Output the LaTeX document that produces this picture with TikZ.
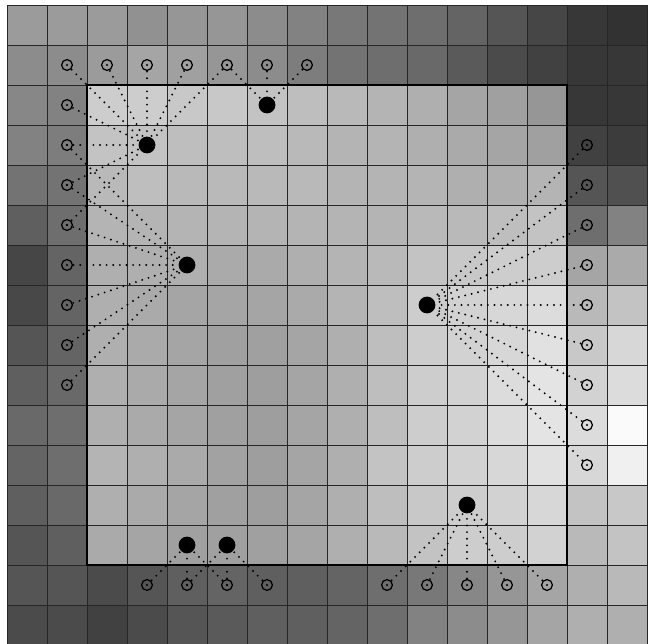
\documentclass[tikz,border=0pt]{standalone}
\begin{document}
\begin{tikzpicture}[x=1cm,y=1cm,
  gridline/.style={draw=black!85, line width=0.7pt},
  frame/.style={draw=black, line width=2pt},
  link/.style={line width=1.5pt, dash pattern=on 0pt off 4.7pt, line cap=round},
  fdot/.style={circle, fill=black, inner sep=0pt, minimum size=0.42cm},
  odot/.style={circle, draw=black, line width=0.9pt, inner sep=0pt, minimum size=0.27cm}]
\useasboundingbox (-0.175,0.05) rectangle (16.175,16.125);
% cells
\foreach \rowlist [count=\r from 0] in {
{155,155,155,145,150,150,140,130,120,115,110,100,85,70,55,50},
{140,140,155,165,160,150,140,125,115,110,105,90,75,65,55,55},
{135,130,205,205,200,200,195,190,185,180,175,165,160,150,55,55},
{130,125,195,195,190,190,190,185,180,180,175,170,165,160,65,60},
{115,115,185,190,185,185,185,185,180,180,180,175,175,180,85,80},
{95,110,180,180,180,180,180,180,180,180,185,185,190,195,110,130},
{70,100,175,175,175,170,170,175,180,185,195,200,205,205,165,170},
{72,100,175,170,165,165,165,170,180,190,205,210,215,220,185,195},
{85,100,175,170,165,160,160,165,175,190,205,210,215,225,200,215},
{95,105,175,170,165,160,158,165,175,190,205,210,220,228,210,220},
{105,110,175,170,165,160,158,165,175,190,205,210,220,228,220,250},
{100,110,180,175,170,162,158,165,175,195,205,210,215,225,215,240},
{95,105,175,170,165,160,158,165,175,190,200,205,210,215,195,200},
{85,95,170,165,160,160,160,165,175,185,195,205,205,210,185,195},
{85,85,75,85,95,100,95,95,100,110,120,135,150,165,175,185},
{75,75,65,75,85,90,95,95,100,110,130,140,150,165,175,175}}{
  \foreach \v [count=\c from 0] in \rowlist {
    \fill[fill={rgb,255:red,\v;green,\v;blue,\v}] (\c,16-\r) rectangle ++(1,-1);
  }
}
% grid
\draw[gridline] (0,0) grid (16,16);
% inner square
\draw[frame] (2,2) rectangle (14,14);
% filled dots
\node[fdot] (A) at (3.5,12.5) {};
\node[fdot] (B) at (6.5,13.5) {};
\node[fdot] (C) at (4.5,9.5) {};
\node[fdot] (D) at (10.5,8.5) {};
\node[fdot] (E) at (4.5,2.5) {};
\node[fdot] (F) at (5.5,2.5) {};
\node[fdot] (G) at (11.5,3.5) {};
% open circles
\foreach \i in {1,...,7} { \node[odot] (t\i) at (0.5+\i,14.5) {}; }
\foreach \i in {1,...,8} { \node[odot] (l\i) at (1.5,14.5-\i) {}; }
\foreach \i in {1,...,9} { \node[odot] (r\i) at (14.5,13.5-\i) {}; }
\foreach \i in {1,...,4} { \node[odot] (b\i) at (2.5+\i,1.5) {}; }
\foreach \i in {5,...,9} { \node[odot] (b\i) at (4.5+\i,1.5) {}; }
% links
\foreach \n in {t1,t2,t3,t4,t5,l1,l2,l3,l4} { \draw[link] (\n.center) -- (A); }
\foreach \n in {t5,t6,t7} { \draw[link] (\n.center) -- (B); }
\foreach \n in {l2,l3,l4,l5,l6,l7,l8} { \draw[link] (\n.center) -- (C); }
\foreach \n in {r1,r2,r3,r4,r5,r6,r7,r8,r9} { \draw[link] (\n.center) -- (D); }
\foreach \n in {b1,b2,b3} { \draw[link] (\n.center) -- (E); }
\foreach \n in {b2,b3,b4} { \draw[link] (\n.center) -- (F); }
\foreach \n in {b5,b6,b7,b8,b9} { \draw[link] (\n.center) -- (G); }
\end{tikzpicture}
\end{document}
